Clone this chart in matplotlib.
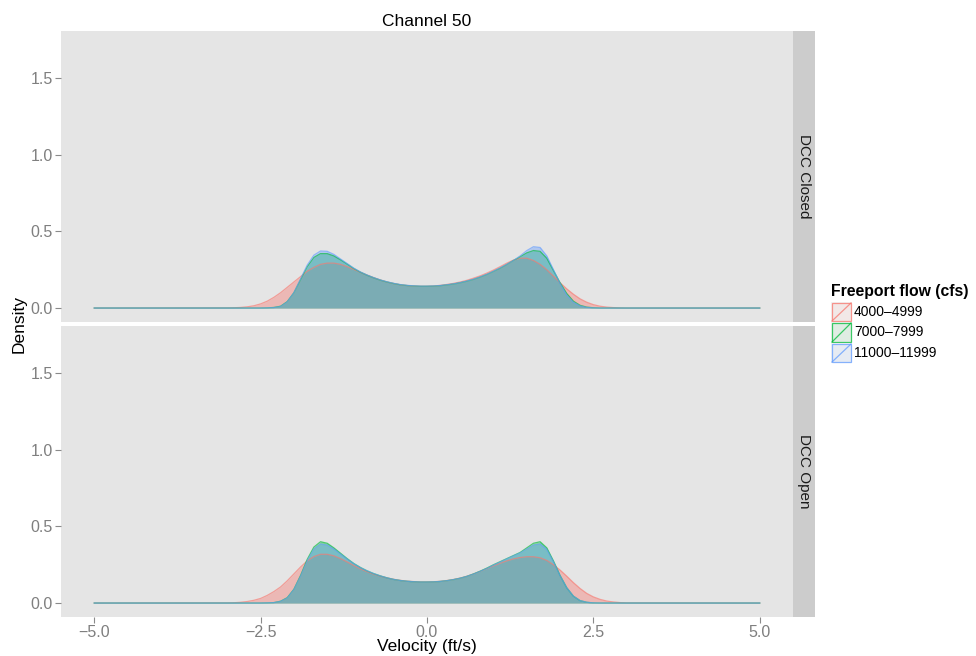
import numpy as np
import matplotlib
matplotlib.use("Agg")
import matplotlib.pyplot as plt
from matplotlib.patches import Rectangle
from matplotlib.lines import Line2D

plt.rcParams['font.family'] = ['Liberation Sans', 'DejaVu Sans']

vel = [-5.0] + [round(-3.0 + 0.1 * i, 1) for i in range(61)] + [5.0]

flows = ['4000\u20134999', '7000\u20137999', '11000\u201311999']
colors = ['#F8766D', '#00BA38', '#619CFF']
panels = ['DCC Closed', 'DCC Open']

# DCC Closed
closed_4000 = [0, 0.001, 0.002, 0.004, 0.008, 0.015, 0.027, 0.045, 0.07, 0.10, 0.135,
               0.17, 0.205, 0.24, 0.265, 0.285, 0.293, 0.293, 0.285, 0.27, 0.252,
               0.233, 0.215, 0.198, 0.183, 0.17, 0.16, 0.152, 0.147, 0.144, 0.142,
               0.142, 0.144, 0.148, 0.154, 0.161, 0.17, 0.181, 0.195, 0.21, 0.228,
               0.248, 0.27, 0.293, 0.313, 0.325, 0.325, 0.31, 0.285, 0.25, 0.208,
               0.165, 0.125, 0.09, 0.06, 0.038, 0.022, 0.012, 0.006, 0.003, 0.001,
               0, 0]
closed_7000 = [0, 0, 0, 0, 0, 0, 0, 0.001, 0.004, 0.012, 0.042,
               0.10, 0.185, 0.27, 0.33, 0.355, 0.355, 0.34, 0.315, 0.287, 0.258,
               0.234, 0.214, 0.197, 0.182, 0.17, 0.16, 0.152, 0.147, 0.144, 0.142,
               0.142, 0.143, 0.146, 0.151, 0.157, 0.165, 0.175, 0.187, 0.202, 0.219,
               0.239, 0.26, 0.284, 0.31, 0.335, 0.36, 0.375, 0.37, 0.325, 0.245,
               0.165, 0.095, 0.045, 0.018, 0.006, 0.002, 0, 0, 0, 0,
               0, 0]
closed_11000 = [0, 0, 0, 0, 0, 0, 0, 0.001, 0.003, 0.01, 0.04,
                0.10, 0.19, 0.28, 0.345, 0.372, 0.37, 0.35, 0.32, 0.29, 0.26,
                0.235, 0.215, 0.198, 0.183, 0.171, 0.161, 0.153, 0.148, 0.145, 0.143,
                0.143, 0.144, 0.147, 0.152, 0.158, 0.166, 0.176, 0.188, 0.203, 0.22,
                0.24, 0.262, 0.285, 0.31, 0.34, 0.375, 0.40, 0.395, 0.34, 0.25,
                0.16, 0.085, 0.038, 0.014, 0.004, 0.001, 0, 0, 0, 0,
                0, 0]

# DCC Open
open_4000 = [0, 0.001, 0.002, 0.005, 0.01, 0.018, 0.03, 0.05, 0.075, 0.105, 0.145,
             0.19, 0.235, 0.275, 0.303, 0.318, 0.318, 0.308, 0.29, 0.268, 0.245,
             0.223, 0.204, 0.188, 0.175, 0.164, 0.155, 0.148, 0.143, 0.14, 0.138,
             0.138, 0.139, 0.142, 0.147, 0.154, 0.163, 0.175, 0.19, 0.207, 0.225,
             0.243, 0.26, 0.275, 0.288, 0.297, 0.302, 0.302, 0.295, 0.278, 0.25,
             0.215, 0.175, 0.133, 0.095, 0.063, 0.04, 0.024, 0.013, 0.007, 0.003,
             0.001, 0]
open_7000 = [0, 0, 0, 0, 0, 0, 0, 0.001, 0.003, 0.012, 0.035,
             0.09, 0.18, 0.285, 0.365, 0.40, 0.39, 0.36, 0.325, 0.29, 0.258,
             0.232, 0.21, 0.192, 0.177, 0.164, 0.154, 0.147, 0.142, 0.139, 0.137,
             0.137, 0.138, 0.141, 0.146, 0.153, 0.162, 0.174, 0.19, 0.208, 0.228,
             0.25, 0.27, 0.29, 0.31, 0.33, 0.36, 0.39, 0.40, 0.36, 0.275,
             0.18, 0.10, 0.045, 0.016, 0.005, 0.001, 0, 0, 0, 0,
             0, 0]
open_11000 = [0, 0, 0, 0, 0, 0, 0, 0.001, 0.003, 0.011, 0.033,
              0.088, 0.175, 0.275, 0.352, 0.385, 0.378, 0.352, 0.32, 0.287, 0.257,
              0.231, 0.21, 0.192, 0.177, 0.164, 0.154, 0.147, 0.142, 0.139, 0.137,
              0.137, 0.138, 0.141, 0.146, 0.153, 0.162, 0.174, 0.189, 0.207, 0.226,
              0.248, 0.268, 0.288, 0.308, 0.327, 0.352, 0.378, 0.385, 0.35, 0.27,
              0.178, 0.10, 0.045, 0.016, 0.005, 0.001, 0, 0, 0, 0,
              0, 0]

data = {
    'DCC Closed': [closed_4000, closed_7000, closed_11000],
    'DCC Open': [open_4000, open_7000, open_11000],
}

fig = plt.figure(figsize=(9.76, 6.56), dpi=100)
W, H = 976, 656


def px_box(x0, y0, x1, y1):
    return [x0 / W, 1 - y1 / H, (x1 - x0) / W, (y1 - y0) / H]


panel_px = [(61, 31, 793, 322), (61, 326, 793, 617)]
for i, name in enumerate(panels):
    x0, y0, x1, y1 = panel_px[i]
    ax = fig.add_axes(px_box(x0, y0, x1, y1))
    ax.set_facecolor('#E5E5E5')
    for s in ax.spines.values():
        s.set_visible(False)
    for vals, c in zip(data[name], colors):
        ax.fill_between(vel, 0, vals, color=c, alpha=0.4, lw=0)
        ax.plot(vel, vals, color=c, lw=0.9, alpha=0.65)
    ax.set_xlim(-5.5, 5.5)
    ax.set_ylim(-0.091, 1.807)
    ax.set_yticks([0.0, 0.5, 1.0, 1.5])
    ax.set_yticklabels(['0.0', '0.5', '1.0', '1.5'])
    ax.set_xticks([-5.0, -2.5, 0.0, 2.5, 5.0])
    ax.tick_params(colors='#8A8A8A', labelcolor='#7F7F7F', labelsize=11.5,
                   length=4, width=0.8, pad=2)
    if i == 0:
        ax.tick_params(axis='x', bottom=False, labelbottom=False)
    else:
        ax.set_xticklabels(['\u22125.0', '\u22122.5', '0.0', '2.5', '5.0'])

    # facet strip
    sx = fig.add_axes(px_box(793, y0, 815, y1))
    sx.set_facecolor('#CCCCCC')
    sx.set_xticks([])
    sx.set_yticks([])
    for s in sx.spines.values():
        s.set_visible(False)
    sx.text(0.5, 0.5, name, rotation=-90, ha='center', va='center',
            fontsize=11, color='#1A1A1A', transform=sx.transAxes)

fig.text(427 / W, 1 - 22 / H, 'Channel 50', ha='center', va='center',
         fontsize=12.5, color='black')
fig.text(427 / W, 1 - 646 / H, 'Velocity (ft/s)', ha='center', va='center',
         fontsize=12.5, color='black')
fig.text(19 / W, 1 - 324 / H, 'Density', ha='center', va='center',
         rotation=90, fontsize=12.5, color='black')

# legend drawn by hand to get ggplot style keys
fig.text(831 / W, 1 - 292 / H, 'Freeport flow (cfs)', ha='left', va='center',
         fontsize=11.3, fontweight='bold', color='black')
rows = [(302, 322), (322, 343), (343, 363)]
for (ya, yb), c, lab in zip(rows, colors, flows):
    kx0, kx1 = 831 / W, 852 / W
    ky0, ky1 = 1 - yb / H, 1 - ya / H
    fig.add_artist(Rectangle((kx0, ky0), kx1 - kx0, ky1 - ky0,
                             transform=fig.transFigure, facecolor='#F2F2F2',
                             edgecolor='none'))
    fig.add_artist(Rectangle((kx0 + 0.001, ky0 + 0.0015), kx1 - kx0 - 0.002,
                             ky1 - ky0 - 0.003, transform=fig.transFigure,
                             facecolor=c, alpha=0.08, edgecolor='none'))
    fig.add_artist(Rectangle((kx0 + 0.001, ky0 + 0.0015), kx1 - kx0 - 0.002,
                             ky1 - ky0 - 0.003, transform=fig.transFigure,
                             facecolor='none', edgecolor=c, lw=0.9, alpha=0.75))
    fig.add_artist(Line2D([kx0 + 0.001, kx1 - 0.001], [ky0 + 0.0015, ky1 - 0.0015],
                          transform=fig.transFigure, color=c, lw=0.9, alpha=0.75))
    fig.text(854 / W, (ky0 + ky1) / 2, lab, ha='left', va='center',
             fontsize=10, color='black')

fig.savefig('out.png', dpi=100)
